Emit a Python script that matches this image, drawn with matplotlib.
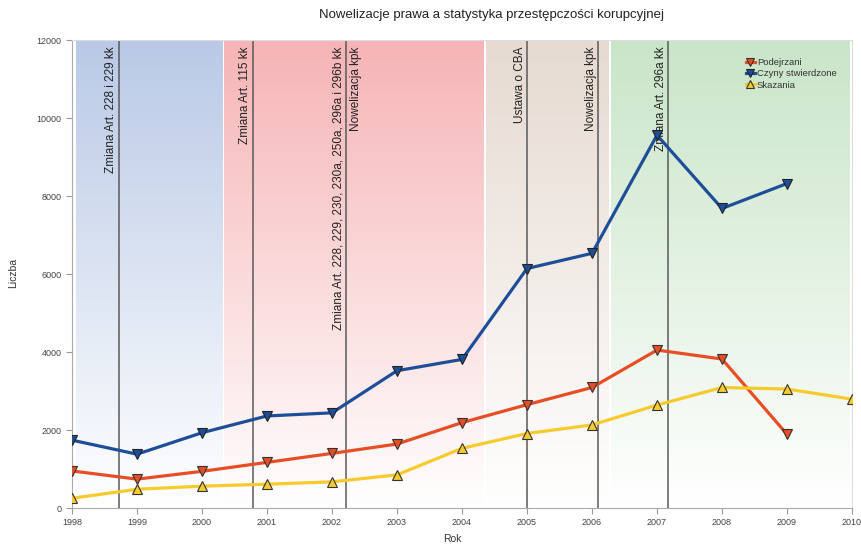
import numpy as np
import matplotlib
matplotlib.use("Agg")
import matplotlib.pyplot as plt
from matplotlib.colors import to_rgb

plt.rcParams['font.family'] = ['Liberation Sans', 'DejaVu Sans']

# --- data ---
years = [1998, 1999, 2000, 2001, 2002, 2003, 2004, 2005, 2006, 2007, 2008, 2009, 2010]
podejrzani = [950, 740, 940, 1170, 1400, 1640, 2190, 2650, 3090, 4050, 3820, 1890]
czyny = [1740, 1380, 1930, 2360, 2440, 3520, 3810, 6140, 6530, 9560, 7680, 8320]
skazania = [250, 480, 560, 610, 670, 850, 1530, 1910, 2130, 2640, 3090, 3050, 2790]

# background periods (start, end, top colour)
period_start = [1998.06, 2000.34, 2004.37, 2006.30]
period_end = [2000.32, 2004.34, 2006.25, 2009.97]
period_color = ['#b9c9e6', '#f6b4b6', '#e6dad1', '#c9e5c8']

# legal changes
event_x = [1998.72, 2000.78, 2002.21, 2002.21, 2005.00, 2006.09, 2007.17]
event_labels = [
    'Zmiana Art. 228 i 229 kk',
    'Zmiana Art. 115 kk',
    'Zmiana Art. 228, 229, 230, 230a, 250a, 296a i 296b kk',
    'Nowelizacja kpk',
    'Ustawa o CBA',
    'Nowelizacja kpk',
    'Zmiana Art. 296a kk',
]
event_side = ['right', 'right', 'right', 'left', 'right', 'right', 'right']

fig = plt.figure(figsize=(8.62, 5.46), dpi=100)
ax = fig.add_axes([72 / 862, 38 / 546, 780 / 862, 468 / 546])

# gradient-filled periods: saturated at the top, fading to white at the bottom
n = 256
for s, e, c in zip(period_start, period_end, period_color):
    top = np.array(to_rgb(c))
    t = np.linspace(0, 1, n)[:, None]
    col = top[None, :] * (1 - t) + np.array([1.0, 1.0, 1.0])[None, :] * t
    col = np.clip(col, 0, 1)
    img = np.repeat(col[:, None, :], 2, axis=1)
    ax.imshow(img, extent=[s, e, 0, 12000], aspect='auto', origin='upper',
              zorder=0, interpolation='bilinear')

ax.set_xlim(1998, 2010)
ax.set_ylim(0, 12000)

# event markers
drawn = set()
for x, lab, side in zip(event_x, event_labels, event_side):
    if x not in drawn:
        ax.axvline(x, color='#5a5a5a', lw=1.1, zorder=1)
        drawn.add(x)
    if side == 'right':
        ax.text(x - 0.02, 11830, lab, rotation=90, ha='right', va='top',
                fontsize=8.5, color='#222222', zorder=2)
    else:
        ax.text(x + 0.06, 11830, lab, rotation=90, ha='left', va='top',
                fontsize=8.5, color='#222222', zorder=2)

# series
ax.plot(years[:len(podejrzani)], podejrzani, color='#e84e26', lw=2.3,
        marker='v', ms=7, mfc='#e84e26', mec='#333333', mew=0.8,
        label='Podejrzani', zorder=4)
ax.plot(years[:len(czyny)], czyny, color='#1f4e99', lw=2.3,
        marker='v', ms=7, mfc='#1f4e99', mec='#222222', mew=0.8,
        label='Czyny stwierdzone', zorder=4)
ax.plot(years[:len(skazania)], skazania, color='#f7cb2e', lw=2.3,
        marker='^', ms=7, mfc='#f7cb2e', mec='#333333', mew=0.8,
        label='Skazania', zorder=4)

ax.set_xticks(years)
ax.set_xticklabels([str(y) for y in years])
ax.set_yticks(np.arange(0, 12001, 2000))
ax.tick_params(axis='both', labelsize=6.5, colors='#999999', labelcolor='#444444',
               length=4, width=0.8, direction='out')

for sp in ['left', 'bottom']:
    ax.spines[sp].set_color('#aaaaaa')
for sp in ['top', 'right']:
    ax.spines[sp].set_color('#dddddd')

fig.text(452 / 862, 1 - 539 / 546, 'Rok', ha='center', va='center',
         fontsize=7.5, color='#333333')
fig.text(13 / 862, 1 - 273 / 546, 'Liczba', ha='center', va='center',
         rotation=90, fontsize=7.5, color='#333333')

fig.text(492 / 862, 1 - 15 / 546, 'Nowelizacje prawa a statystyka przestępczości korupcyjnej',
         ha='center', va='center', fontsize=9.5, color='#222222')

leg = ax.legend(loc='upper left', bbox_to_anchor=(0.855, 0.976), frameon=False,
                fontsize=6.8, handlelength=1.0, handletextpad=0.2,
                labelspacing=0.25, borderpad=0.2, markerscale=0.75)
for t in leg.get_texts():
    t.set_color('#333333')

fig.savefig('out.png', dpi=100)
